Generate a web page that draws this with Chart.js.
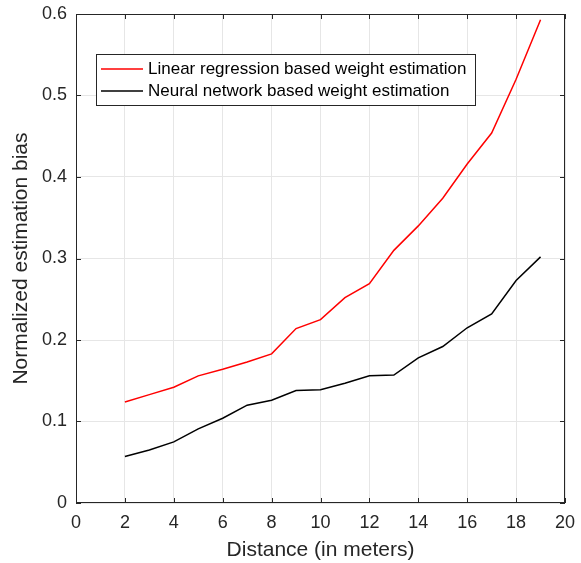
<!DOCTYPE html>
<html>
<head>
<meta charset="utf-8">
<script src="https://cdn.jsdelivr.net/npm/chart.js@4.4.0/dist/chart.umd.min.js"></script>
<style>
  html, body { margin: 0; padding: 0; background: #fff; }
  #wrap { width: 581px; height: 563px; }
</style>
</head>
<body>
<div id="wrap"><canvas id="c" width="581" height="563"></canvas></div>
<script>
// Data
const distances = [2, 3, 4, 5, 6, 7, 8, 9, 10, 11, 12, 13, 14, 15, 16, 17, 18, 19];
const linearBias = [0.124, 0.133, 0.142, 0.156, 0.164, 0.173, 0.183, 0.214, 0.225, 0.252, 0.269, 0.31, 0.34, 0.374, 0.416, 0.454, 0.52, 0.593];
const neuralBias = [0.057, 0.065, 0.075, 0.091, 0.104, 0.12, 0.126, 0.138, 0.139, 0.147, 0.156, 0.157, 0.178, 0.192, 0.215, 0.232, 0.273, 0.302];
const xTicks = [0, 2, 4, 6, 8, 10, 12, 14, 16, 18, 20];
const yTicks = [0, 0.1, 0.2, 0.3, 0.4, 0.5, 0.6];

const ink = '#262626';
const font = 'Liberation Sans, Arial, sans-serif';

// MATLAB-style box with inward ticks on all four sides
const axesBox = {
  id: 'axesBox',
  afterDraw(chart) {
    const { ctx, chartArea: a, scales } = chart;
    ctx.save();
    ctx.strokeStyle = ink;
    ctx.lineWidth = 1;
    ctx.strokeRect(a.left + 0.5, a.top + 0.5, a.right - a.left - 1, a.bottom - a.top - 1);
    const t = 5;
    ctx.beginPath();
    xTicks.forEach(v => {
      const px = Math.round(scales.x.getPixelForValue(v)) + 0.5;
      ctx.moveTo(px, a.bottom); ctx.lineTo(px, a.bottom - t);
      ctx.moveTo(px, a.top); ctx.lineTo(px, a.top + t);
    });
    yTicks.forEach(v => {
      const py = Math.round(scales.y.getPixelForValue(v)) + 0.5;
      ctx.moveTo(a.left, py); ctx.lineTo(a.left + t, py);
      ctx.moveTo(a.right, py); ctx.lineTo(a.right - t, py);
    });
    ctx.stroke();
    ctx.restore();
  }
};

// legend box placed inside the axes like the original
const boxLegend = {
  id: 'boxLegend',
  afterDraw(chart) {
    const { ctx } = chart;
    const x = 96, y = 54, w = 379, h = 51;
    ctx.save();
    ctx.fillStyle = '#fff';
    ctx.fillRect(x, y, w, h);
    ctx.strokeStyle = ink;
    ctx.lineWidth = 1;
    ctx.strokeRect(x + 0.5, y + 0.5, w, h);
    ctx.font = '17px ' + font;
    ctx.textBaseline = 'middle';
    chart.data.datasets.forEach((ds, i) => {
      const ly = y + 15 + i * 22;
      ctx.strokeStyle = ds.borderColor;
      ctx.lineWidth = 1.5;
      ctx.beginPath();
      ctx.moveTo(x + 5, ly); ctx.lineTo(x + 47, ly);
      ctx.stroke();
      ctx.fillStyle = '#000';
      ctx.fillText(ds.label, x + 52, ly);
    });
    ctx.restore();
  }
};

new Chart(document.getElementById('c'), {
  type: 'line',
  data: {
    datasets: [
      {
        label: 'Linear regression based weight estimation',
        data: distances.map((d, i) => ({ x: d, y: linearBias[i] })),
        borderColor: '#ff0000',
        borderWidth: 1.5,
        pointRadius: 0,
        tension: 0
      },
      {
        label: 'Neural network based weight estimation',
        data: distances.map((d, i) => ({ x: d, y: neuralBias[i] })),
        borderColor: '#000000',
        borderWidth: 1.5,
        pointRadius: 0,
        tension: 0
      }
    ]
  },
  options: {
    responsive: false,
    animation: false,
    layout: { padding: { top: 14, right: 16, left: 0, bottom: 0 } },
    plugins: { legend: { display: false }, tooltip: { enabled: false } },
    scales: {
      x: {
        type: 'linear',
        min: 0, max: 20,
        afterBuildTicks: s => { s.ticks = xTicks.map(v => ({ value: v })); },
        afterFit: s => { s.height = 60; s.paddingLeft = 0; s.paddingRight = 0; },
        grid: { color: '#e6e6e6', drawTicks: false },
        border: { display: false },
        ticks: { color: ink, font: { size: 18, family: font }, padding: 9, maxRotation: 0 },
        title: { display: true, text: 'Distance (in meters)', color: ink, font: { size: 21, family: font }, padding: { top: 0, bottom: 0 } }
      },
      y: {
        type: 'linear',
        min: 0, max: 0.6,
        afterBuildTicks: s => { s.ticks = yTicks.map(v => ({ value: v })); },
        afterFit: s => { s.width = 76; s.paddingTop = 0; s.paddingBottom = 0; },
        grid: { color: '#e6e6e6', drawTicks: false },
        border: { display: false },
        ticks: { color: ink, font: { size: 18, family: font }, padding: 9, callback: v => String(v) },
        title: { display: true, text: 'Normalized estimation bias', color: ink, font: { size: 21, family: font }, padding: { top: 9, bottom: 0 } }
      }
    }
  },
  plugins: [axesBox, boxLegend]
});
</script>
</body>
</html>
